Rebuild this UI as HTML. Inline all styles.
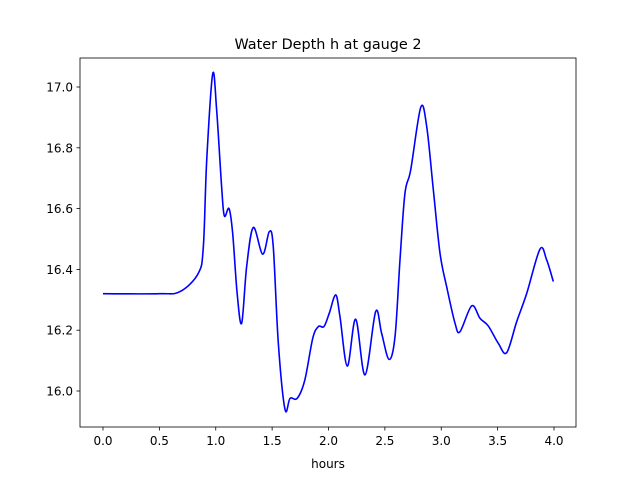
<!DOCTYPE html>
<html><head><meta charset="utf-8"><style>
body{margin:0;background:#fff;font-family:"Liberation Sans","DejaVu Sans",sans-serif;}
svg text{font-family:"DejaVu Sans","Liberation Sans",sans-serif;fill:#000;}
</style></head><body>
<svg width="640" height="480" xmlns="http://www.w3.org/2000/svg">
<rect width="640" height="480" fill="#fff"/>
<text x="328" y="49" font-size="14.4" text-anchor="middle">Water Depth h at gauge 2</text>
<g id="xticks"></g>
<g id="yticks"></g>
<path id="line" fill="none" stroke="#0000ff" stroke-width="1.6"/>
<rect x="80" y="58" width="496" height="369" fill="none" stroke="#000" stroke-width="0.8"/>
<text x="328" y="468" font-size="12" text-anchor="middle">hours</text>
</svg>
<script>
const times=[0,0.5,0.683,0.845,0.89,0.92,0.973,1.008,1.052,1.076,1.118,1.15,1.19,1.23,1.274,1.333,1.416,1.475,1.51,1.555,1.614,1.659,1.723,1.79,1.86,1.91,1.96,2.007,2.064,2.102,2.167,2.241,2.324,2.418,2.471,2.537,2.59,2.634,2.678,2.729,2.818,2.871,2.93,2.989,3.048,3.122,3.166,3.27,3.344,3.417,3.506,3.58,3.669,3.758,3.876,3.935,3.994];
const depths=[16.32,16.32,16.327,16.387,16.475,16.76,17.043,16.924,16.672,16.576,16.60,16.519,16.32,16.223,16.409,16.538,16.45,16.524,16.475,16.157,15.94,15.976,15.976,16.036,16.173,16.212,16.212,16.256,16.316,16.244,16.082,16.236,16.053,16.261,16.19,16.104,16.179,16.431,16.65,16.727,16.933,16.87,16.661,16.453,16.343,16.223,16.195,16.28,16.239,16.214,16.157,16.126,16.228,16.321,16.467,16.431,16.36];
const xTicks=[0,0.5,1,1.5,2,2.5,3,3.5,4];
const xTickLabels=["0.0","0.5","1.0","1.5","2.0","2.5","3.0","3.5","4.0"];
const yTicks=[16.0,16.2,16.4,16.6,16.8,17.0];
const yTickLabels=["16.0","16.2","16.4","16.6","16.8","17.0"];
const X=t=>103+t*112.75;
const Y=h=>391-(h-16)*304;
const NS="http://www.w3.org/2000/svg";
const xg=document.getElementById('xticks'),yg=document.getElementById('yticks');
xTicks.forEach((t,i)=>{
  const l=document.createElementNS(NS,'line');
  
  
  l.setAttribute('x1',X(t));l.setAttribute('x2',X(t));l.setAttribute('y1',427);l.setAttribute('y2',430.5);l.setAttribute('stroke','#000');l.setAttribute('stroke-width','0.8');
  xg.appendChild(l);
  const tx=document.createElementNS(NS,'text');
  
  
  tx.setAttribute('x',X(t));tx.setAttribute('y',445);tx.setAttribute('font-size','12');tx.setAttribute('text-anchor','middle');
  tx.textContent=xTickLabels[i];xg.appendChild(tx);
});
yTicks.forEach((h,i)=>{
  const l=document.createElementNS(NS,'line');
  
  
  l.setAttribute('x1',76.5);l.setAttribute('x2',80);l.setAttribute('y1',Y(h));l.setAttribute('y2',Y(h));l.setAttribute('stroke','#000');l.setAttribute('stroke-width','0.8');
  yg.appendChild(l);
  const tx=document.createElementNS(NS,'text');
  
  
  tx.setAttribute('x',73);tx.setAttribute('y',Y(h)+4.5);tx.setAttribute('font-size','12');tx.setAttribute('text-anchor','end');
  tx.textContent=yTickLabels[i];yg.appendChild(tx);
});
const pts=times.map((t,i)=>[X(t),Y(depths[i])]);
let d='M'+pts[0][0]+','+pts[0][1];
for(let i=0;i<pts.length-1;i++){
  const p0=pts[Math.max(0,i-1)],p1=pts[i],p2=pts[i+1],p3=pts[Math.min(pts.length-1,i+2)];
  const c1=[p1[0]+(p2[0]-p0[0])/6,p1[1]+(p2[1]-p0[1])/6];
  const c2=[p2[0]-(p3[0]-p1[0])/6,p2[1]-(p3[1]-p1[1])/6];
  d+=` C${c1[0]},${c1[1]} ${c2[0]},${c2[1]} ${p2[0]},${p2[1]}`;
}
document.getElementById('line').setAttribute('d',d);
</script>
</body></html>
